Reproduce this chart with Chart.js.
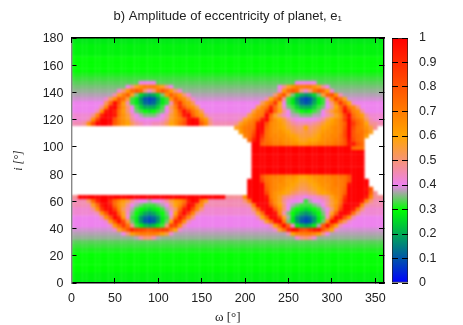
<!DOCTYPE html>
<html>
<head>
<meta charset="utf-8">
<script src="https://cdn.jsdelivr.net/npm/chart.js@4"></script>
<style>
    html, body { margin: 0; padding: 0; background: #fff; }
    canvas { position: absolute; left: 0; top: 0; }
</style>
</head>
<body>
<canvas id="mapChart" width="463" height="325"></canvas>
<canvas id="barChart" width="463" height="325"></canvas>
<script>
// One letter per cell. Index in levelChars / 40 is the amplitude, '.' is no data.
const levelChars = '0123456789abcdefghijklmnopqrstuvwxyzABCDE';
// half steps for the slow green to violet fade
const halfLevels = { N: 0.2875, P: 0.3125, Q: 0.3375, R: 0.3625, S: 0.3875 };

const omegaStep = 5;  // one column, starts at omega 0
const inclTop = 180;  // first row
const inclStep = 3;   // one row

// Groups of five columns, the spaces are only there for counting
const amplitudeRows = [
    'bbbbb bbbbb bbbbb bbbbb bbbbb bbbbb bbbbb bbbbb bbbbb bbbbb bbbbb bbbbb bbbbb bbbbb bbb', // 180
    'bbbbb bbbbb bbbbb bbbbb bbbbb bbbbb bbbbb bbbbb bbbbb bbbbb bbbbb bbbbb bbbbb bbbbb bbb',
    'NNNNN NNNNN NNNNN NNNNN NNNNN NNNNN NNNNN NNNNN NNNNN NNNNN NNNNN NNNNN NNNNN NNNNN NNN',
    'NNNNN NNNNN NNNNN NNNNN NNNNN NNNNN NNNNN NNNNN NNNNN NNNNN NNNNN NNNNN NNNNN NNNNN NNN',
    'NNNNN NNNNN NNNNN NNNNN NNNNN NNNNN NNNNN NNNNN NNNNN NNNNN NNNNN NNNNN NNNNN NNNNN NNN',
    'ccccc ccccc ccccc ccccc ccccc ccccc ccccc ccccc ccccc ccccc ccccc ccccc ccccc ccccc ccc', // 165
    'ccccc ccccc ccccc ccccc ccccc ccccc ccccc ccccc ccccc ccccc ccccc ccccc ccccc ccccc ccc',
    'ccccc ccccc ccccc ccccc ccccc ccccc ccccc ccccc ccccc ccccc ccccc ccccc ccccc ccccc ccc',
    'ccccc ccccc ccccc ccccc ccccc ccccc ccccc ccccc ccccc ccccc ccccc ccccc ccccc ccccc ccc',
    'PPPPP PPPPP PPPPP PPPPP PPPPP PPPPP PPPPP PPPPP PPPPP PPPPP PPPPP PPPPP PPPPP PPPPP PPP',
    'ddddd ddddd ddddd ddddd ddddd ddddd ddddd ddddd ddddd ddddd ddddd ddddd ddddd ddddd ddd', // 150
    'QQQQQ QQQQQ QQQQQ Qgggg QQQQQ QQQQQ QQQQQ QQQQQ QQQQQ QQQQQ QQggg ggQQQ QQQQQ QQQQQ QQQ',
    'eeeee eeeee eeegj nqsss qnjge eeeee eeeee eeeee eeeee eeegj nqsss sqnjg eeeee eeeee eee',
    'RRRRR RRRRR Rhkpu wukhk twtpk hRRRR RRRRR RRRRR RRRRR RRRhp uwukh ktwup hRRRR RRRRR RRR',
    'fffff fffff insvn ea878 aeqvs pkhff fffff fffff fffff ffksw mea87 8aemv wqiff fffff fff',
    'SSSSS SSShl qwumd b7434 7bdqw sqlhS SSSSS SSSSS SSSSS iotxj db743 47bdi qytnS SSSSS SSS', // 135
    'ggggg ggglu Dwpid b8545 8bdiu zsqlg ggggg ggggg ggggl qtzog db854 58bdg krzto hgggg ggg',
    'ggggg ggjrD Evqkg da888 adgls Awsql ggggg ggggg gggmr tBunh eda88 8adeg jouBt rkggg ggg',
    'ggggg giqCE Btpkg edcbc degkq wDytq lgggg ggggg ggmrs yDuoj gedcb cdegj mqtDy sqjgg ggg',
    'hhhhh jrBEE Ctqmi gfeee fgimq uCEvr pjhhh hhhhh hmqst Eunki gffee effgi knryE urpjh hhh',
    'hhhhi qyEEE wsqnj hgggg ghjnq svDED spjhh hhhhi nqsuC Etqom jhggg gghjm oqsyE wtrli hhh', // 120
    'iiijq xEEED vsqol jihhi ijloq twDEE vrkii iiijn qstCE wrqpn ljiii ijkmo pqsvE zusoj jii',
    '..... ..... ..... ..... ..... ..... ..... ...nq stuDE urqpo mlkko klmop qrswE xtsqm j..',
    '..... ..... ..... ..... ..... ..... ..... ....p stwED trqqp omllm lmnpq qrsxE wttrn ...',
    '..... ..... ..... ..... ..... ..... ..... ..... rtyEA trrqq ponmm mnoqq rrtxE wutp. ...',
    '..... ..... ..... ..... ..... ..... ..... ..... .uBEx tsrrq qponn oopqr rstwD xut.. ...', // 105
    '..... ..... ..... ..... ..... ..... ..... ..... ..EEv utssr rqqpp qqrrs stuwC Cwu.. ...',
    '..... ..... ..... ..... ..... ..... ..... ..... ..EEE EEEEE EEEEE EEEEE EEEEE utt.. ...',
    '..... ..... ..... ..... ..... ..... ..... ..... ..EEE EEEEE EEEEE EEEEE EEEEE EEE.. ...',
    '..... ..... ..... ..... ..... ..... ..... ..... ..EEE EEEEE EEEEE EEEEE EEEEE EEE.. ...',
    '..... ..... ..... ..... ..... ..... ..... ..... ..EEE EEEEE EEEEE EEEEE EEEEE EEE.. ...', // 90
    '..... ..... ..... ..... ..... ..... ..... ..... ..EEE EEEEE EEEEE EEEEE EEEEE EEE.. ...',
    '..... ..... ..... ..... ..... ..... ..... ..... ..EEE EEEEE EEEEE EEEEE EEEEE EEE.. ...',
    '..... ..... ..... ..... ..... ..... ..... ..... ..EEE EEEEE EEEEE EEEEE EEEEE EEE.. ...',
    '..... ..... ..... ..... ..... ..... ..... ..... ..EEw tssrr qqpoo pqqrr ssttw EEE.. ...',
    '..... ..... ..... ..... ..... ..... ..... ..... .EEEy tsrrq pponn opqqr rsstw EEEE. ...', // 75
    '..... ..... ..... ..... ..... ..... ..... ..... .EEEE usrqq ponmm nopqq rsstD EEEE. ...',
    '..... ..... ..... ..... ..... ..... ..... ..... .EEEE vsrqp onmll mnopq rrsuE EEEDw ...',
    '..... ..... ..... ..... ..... ..... ..... ..... .EEEE xsqpo nlkjj klnop qrsvE EEEEu j..',
    'jjEEE EEEEE EEEEE EEEEE EEEEE EEEEE EEEEE Ejjjj qDEEE Csqnk jihhg hhijk nqszE EEECr jjj',
    'iiiil uBEEA urpmj hggfg ghjmp qtBED sniii iiiii ksEEE Duqnj hgggd fgghj mptBE EECrk iii', // 60
    'iiiii nuCEC uqnjg feddd efgko rwECt qiiii iiiii ijsEE Exsok gfedd defgj mqvEE EDrji iii',
    'hhhhh jqzDE yrlif dcbab cdfil uCExr khhhh hhhhh hhluD EEwqk gdcba bcdfg kqyEE Cskhh hhh',
    'hhhhh hiqwE Dunhe ca878 acego yEyrj hhhhh hhhhh hhinu EEDri eca87 8aceh nvEEC tkhhh hhh',
    'ggggg ggiqw EAphd b7545 7bdit Cyrkg ggggg ggggg gggio vEEyn fb754 57bdi uEEwq igggg ggg',
    'ggggg ggghp wDxme b7434 7beoB yqigg ggggg ggggg ggggh ntDEs eb743 47beq ECslh ggggg ggg', // 45
    'ggggg ggggh puztj db989 bdkyy qiggg ggggg ggggg ggggg giovD vhb98 9bfvD uoigg ggggg ggg',
    'SSSSS SSSSS hnswB zyxwx yzyso hSSSS SSSSS SSSSS SSSSS SShnt BEDyx ADDws ohSSS SSSSS SSS',
    'fffff fffff ffgkp rssss rpmhf fffff fffff fffff fffff fffff iorss srpkg fffff fffff fff',
    'RRRRR RRRRR RRRRR fikki fRRRR RRRRR RRRRR RRRRR RRRRR RRRRR RRhjk jhRRR RRRRR RRRRR RRR',
    'QQQQQ QQQQQ QQQQQ QQQQQ QQQQQ QQQQQ QQQQQ QQQQQ QQQQQ QQQQQ QQQQQ QQQQQ QQQQQ QQQQQ QQQ', // 30
    'ddddd ddddd ddddd ddddd ddddd ddddd ddddd ddddd ddddd ddddd ddddd ddddd ddddd ddddd ddd',
    'PPPPP PPPPP PPPPP PPPPP PPPPP PPPPP PPPPP PPPPP PPPPP PPPPP PPPPP PPPPP PPPPP PPPPP PPP',
    'ccccc ccccc ccccc ccccc ccccc ccccc ccccc ccccc ccccc ccccc ccccc ccccc ccccc ccccc ccc',
    'ccccc ccccc ccccc ccccc ccccc ccccc ccccc ccccc ccccc ccccc ccccc ccccc ccccc ccccc ccc',
    'ccccc ccccc ccccc ccccc ccccc ccccc ccccc ccccc ccccc ccccc ccccc ccccc ccccc ccccc ccc', // 15
    'ccccc ccccc ccccc ccccc ccccc ccccc ccccc ccccc ccccc ccccc ccccc ccccc ccccc ccccc ccc',
    'ccccc ccccc ccccc ccccc ccccc ccccc ccccc ccccc ccccc ccccc ccccc ccccc ccccc ccccc ccc',
    'NNNNN NNNNN NNNNN NNNNN NNNNN NNNNN NNNNN NNNNN NNNNN NNNNN NNNNN NNNNN NNNNN NNNNN NNN',
    'NNNNN NNNNN NNNNN NNNNN NNNNN NNNNN NNNNN NNNNN NNNNN NNNNN NNNNN NNNNN NNNNN NNNNN NNN',
    'bbbbb bbbbb bbbbb bbbbb bbbbb bbbbb bbbbb bbbbb bbbbb bbbbb bbbbb bbbbb bbbbb bbbbb bbb'  // 0
];

// Colour scale of the bar on the right
const paletteStops = [0, 0.3, 0.4, 0.6, 1];
const paletteColors = [[0, 0, 255], [0, 255, 0], [238, 130, 238], [255, 165, 0], [255, 0, 0]];

const omegaTicks = [0, 50, 100, 150, 200, 250, 300, 350];
const inclTicks = [0, 20, 40, 60, 80, 100, 120, 140, 160, 180];
const barTicks = [0, 0.1, 0.2, 0.3, 0.4, 0.5, 0.6, 0.7, 0.8, 0.9, 1];

const tickFont = { family: '"Liberation Sans"', size: 12.5 };
const textColor = '#222';

function levelColor(v) {
    for (let n = 1; n < paletteStops.length; n++) {
        if (v <= paletteStops[n]) {
            const t = (v - paletteStops[n - 1]) / (paletteStops[n] - paletteStops[n - 1]);
            const a = paletteColors[n - 1], b = paletteColors[n];
            return `rgb(${a.map((c, k) => Math.round(c + (b[k] - c) * t)).join(',')})`;
        }
    }
    return 'rgb(255,0,0)';
}

// Turn the rows into one square point per cell
const cells = [];
amplitudeRows.forEach((row, r) => {
    row.replace(/ /g, '').split('').forEach((ch, c) => {
        if (ch === '.') return; // white hole, no data
        const v = ch in halfLevels ? halfLevels[ch] : levelChars.indexOf(ch) / 40;
        cells.push({ x: c * omegaStep, y: inclTop - r * inclStep, v: v });
    });
});

// Ticks point into the plot and sit on top of the cells
function innerTicks(values, length, extra) {
    return Object.assign({
        afterBuildTicks: axis => { axis.ticks = values.map(value => ({ value: value })); },
        grid: { drawOnChartArea: false, tickLength: -length, tickColor: '#000', tickWidth: 1, z: 1 },
        border: { color: '#000', width: 1.4, z: 1 }
    }, extra);
}

// The reference map is a soft image, so take the edge off the square cells
const softenCells = {
    id: 'softenCells',
    beforeDatasetsDraw(chart) {
        const { ctx, chartArea: a } = chart;
        ctx.save();
        ctx.fillStyle = '#fff';
        ctx.fillRect(a.left, a.top, a.right - a.left, a.bottom - a.top);
        ctx.restore();
    },
    afterDatasetsDraw(chart) {
        const { ctx, chartArea: a } = chart;
        ctx.save();
        ctx.beginPath();
        ctx.rect(a.left, a.top, a.right - a.left, a.bottom - a.top);
        ctx.clip();
        ctx.filter = 'blur(1px)';
        ctx.drawImage(chart.canvas, 0, 0);
        ctx.restore();
    }
};

new Chart(document.getElementById('mapChart'), {
    type: 'scatter',
    data: {
        datasets: [{
            data: cells,
            pointStyle: 'rect',
            pointRadius: 3.2,
            pointBorderWidth: 0,
            pointBackgroundColor: cells.map(cell => levelColor(cell.v)),
            clip: 0
        }]
    },
    plugins: [softenCells],
    options: {
        responsive: false,
        animation: false,
        events: [],
        layout: { padding: 0 },
        plugins: {
            legend: { display: false },
            tooltip: { enabled: false },
            title: {
                display: true,
                fullSize: false,
                text: 'b) Amplitude of eccentricity of planet, e\u2081',
                color: textColor,
                font: { family: '"Liberation Sans"', size: 13, weight: 'normal' },
                padding: { top: 9, bottom: 13.4 }
            }
        },
        scales: {
            x: innerTicks(omegaTicks, 5, {
                type: 'linear', position: 'bottom', min: 0, max: 360,
                afterFit: axis => { axis.height = 42; },
                ticks: { font: tickFont, color: textColor, padding: 13, maxRotation: 0 },
                title: { display: true, text: '\u03c9 [\u00b0]', color: textColor, padding: { top: 1, bottom: 0 },
                    font: { family: '"Liberation Serif"', size: 13 } }
            }),
            y: innerTicks(inclTicks, 5, {
                type: 'linear', position: 'left', min: 0, max: 180,
                afterFit: axis => { axis.width = 71.5; },
                border: { color: '#888', width: 1.4, z: 1 },
                ticks: { font: tickFont, color: textColor, padding: 13, labelOffset: 1 },
                title: { display: true, text: 'i [\u00b0]', color: textColor, padding: { top: 12, bottom: 0 },
                    font: { family: '"Liberation Serif"', size: 12, style: 'italic' } }
            }),
            xTop: innerTicks(omegaTicks, 5, {
                type: 'linear', position: 'top', min: 0, max: 360,
                afterFit: axis => { axis.height = 0; },
                ticks: { display: false }
            }),
            yRight: innerTicks(inclTicks, 5, {
                type: 'linear', position: 'right', min: 0, max: 180,
                afterFit: axis => { axis.width = 79; },
                ticks: { display: false }
            })
        }
    }
});

// Gradient for the one bar, follows the plot area of that chart
function barGradient(context) {
    const area = context.chart.chartArea;
    if (!area) return '#f00';
    const gradient = context.chart.ctx.createLinearGradient(0, area.bottom, 0, area.top);
    paletteStops.forEach((stop, n) => gradient.addColorStop(stop, `rgb(${paletteColors[n].join(',')})`));
    return gradient;
}

new Chart(document.getElementById('barChart'), {
    type: 'bar',
    data: {
        labels: ['amplitude'],
        datasets: [{
            data: [[0, 1]],
            backgroundColor: barGradient,
            borderColor: '#222',
            borderWidth: 1,
            borderSkipped: false,
            barPercentage: 1,
            categoryPercentage: 1
        }]
    },
    options: {
        responsive: false,
        animation: false,
        events: [],
        layout: { padding: { left: 392, top: 38, bottom: 42, right: 0 } },
        plugins: { legend: { display: false }, tooltip: { enabled: false } },
        scales: {
            x: { display: false },
            y: innerTicks(barTicks, 6, {
                type: 'linear', position: 'right', min: 0, max: 1,
                afterFit: axis => { axis.width = 55; },
                border: { display: false },
                ticks: { font: tickFont, color: textColor, padding: 17, callback: value => String(value) }
            }),
            yLeft: innerTicks(barTicks, 6, {
                type: 'linear', position: 'left', min: 0, max: 1,
                afterFit: axis => { axis.width = 0; },
                border: { display: false },
                ticks: { display: false }
            })
        }
    }
});
</script>
</body>
</html>
